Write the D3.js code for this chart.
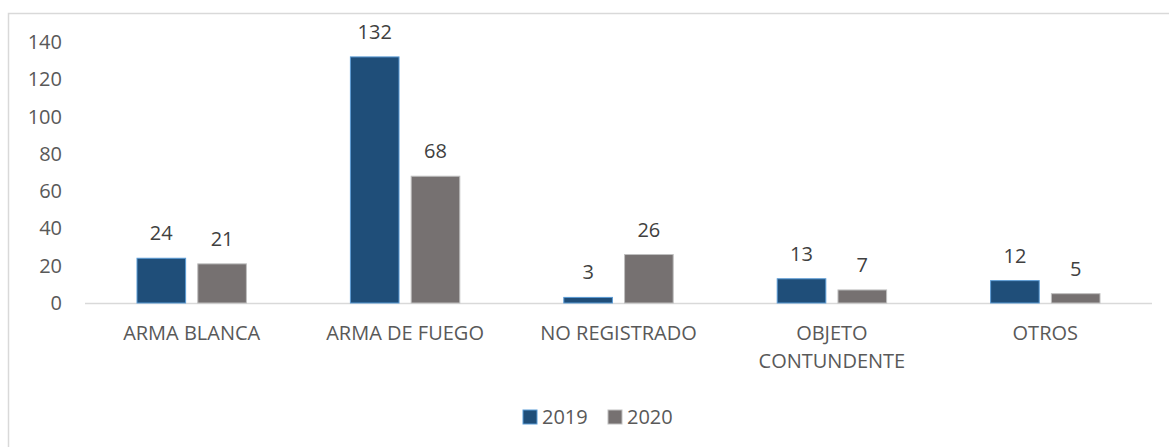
<!DOCTYPE html>
<html>
<head>
<meta charset="utf-8">
<script src="https://cdn.jsdelivr.net/npm/d3@7"></script>
<style>
  body { margin: 0; background: #fff; }
  text { font-family: "Open Sans", "Noto Sans", sans-serif; fill: #595959; }
</style>
</head>
<body>
<div id="chart"></div>
<script>
// Chart data
var categories = ["ARMA BLANCA", "ARMA DE FUEGO", "NO REGISTRADO", "OBJETO CONTUNDENTE", "OTROS"];
var categoryLines = [["ARMA BLANCA"], ["ARMA DE FUEGO"], ["NO REGISTRADO"], ["OBJETO", "CONTUNDENTE"], ["OTROS"]];
var seriesNames = ["2019", "2020"];
var values2019 = [24, 132, 3, 13, 12];
var values2020 = [21, 68, 26, 7, 5];
var yTicks = [0, 20, 40, 60, 80, 100, 120, 140];

var colors = { "2019": "#1F4E79", "2020": "#767171" };
var strokes = { "2019": "#5B9BD5", "2020": "#BFBFBF" };

var svgWidth = 1169, svgHeight = 447;
var margin = { top: 42, left: 85, right: 17, bottom: 144 };
var width = svgWidth - margin.left - margin.right;
var height = svgHeight - margin.top - margin.bottom;
var fontSize = "20px";

var svg = d3.select("#chart").append("svg")
  .attr("width", svgWidth)
  .attr("height", svgHeight);

// outer frame (only top/left visible)
svg.append("rect")
  .attr("x", 8.5).attr("y", 13.5)
  .attr("width", 1200).attr("height", 500)
  .attr("fill", "none")
  .attr("stroke", "#D9D9D9")
  .attr("stroke-width", 1.5);

var g = svg.append("g").attr("transform", `translate(${margin.left},${margin.top})`);

var x0 = d3.scaleBand().domain(categories).range([0, width]).paddingInner(0).paddingOuter(0);
var x1 = d3.scaleBand().domain(seriesNames).range([52, x0.bandwidth() - 52]).paddingInner(0.2);
var y = d3.scaleLinear().domain([0, 140]).range([height, 0]);

// y tick labels
g.selectAll(".ytick").data(yTicks).enter().append("text")
  .attr("class", "ytick")
  .attr("x", -23)
  .attr("y", d => y(d))
  .attr("dy", "0.35em")
  .attr("text-anchor", "end")
  .style("font-size", fontSize)
  .text(d => d);

// baseline
g.append("line")
  .attr("x1", 0).attr("x2", width)
  .attr("y1", y(0) + 0.5).attr("y2", y(0) + 0.5)
  .attr("stroke", "#D9D9D9").attr("stroke-width", 1.5);

var rows = [];
categories.forEach(function(c, i) {
  rows.push({ cat: c, series: "2019", value: values2019[i] });
  rows.push({ cat: c, series: "2020", value: values2020[i] });
});

g.selectAll(".bar").data(rows).enter().append("rect")
  .attr("class", "bar")
  .attr("x", d => x0(d.cat) + x1(d.series))
  .attr("y", d => y(d.value))
  .attr("width", x1.bandwidth())
  .attr("height", d => y(0) - y(d.value))
  .attr("fill", d => colors[d.series])
  .attr("stroke", d => strokes[d.series])
  .attr("stroke-width", 1);

// value labels
g.selectAll(".vlabel").data(rows).enter().append("text")
  .attr("class", "vlabel")
  .attr("x", d => x0(d.cat) + x1(d.series) + x1.bandwidth() / 2)
  .attr("y", d => y(d.value) - 25)
  .attr("dy", "0.35em")
  .attr("text-anchor", "middle")
  .style("font-size", fontSize)
  .style("fill", "#404040")
  .text(d => d.value);

// category labels
var catG = g.selectAll(".cat").data(categories).enter().append("text")
  .attr("class", "cat")
  .attr("x", d => x0(d) + x0.bandwidth() / 2)
  .attr("y", height + 30)
  .attr("dy", "0.35em")
  .attr("text-anchor", "middle")
  .style("font-size", fontSize);
catG.each(function(d, i) {
  var t = d3.select(this);
  categoryLines[i].forEach(function(line, j) {
    t.append("tspan")
      .attr("x", x0(d) + x0.bandwidth() / 2)
      .attr("dy", j === 0 ? "0.35em" : 28)
      .text(line);
  });
});

// legend
var legend = svg.append("g").attr("transform", "translate(523,410)");
var legendX = [0, 85];
seriesNames.forEach(function(s, i) {
  legend.append("rect")
    .attr("x", legendX[i]).attr("y", 0)
    .attr("width", 14).attr("height", 14)
    .attr("fill", colors[s])
    .attr("stroke", strokes[s]).attr("stroke-width", 1);
  legend.append("text")
    .attr("x", legendX[i] + 19).attr("y", 7)
    .attr("dy", "0.35em")
    .style("font-size", fontSize)
    .text(s);
});
</script>
</body>
</html>
